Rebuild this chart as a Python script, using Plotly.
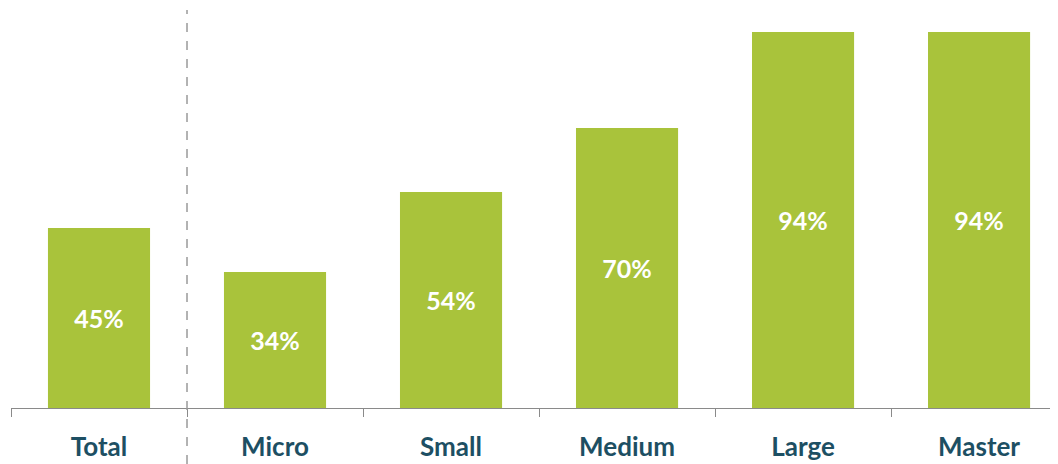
import plotly.graph_objects as go

categories = ["Total", "Micro", "Small", "Medium", "Large", "Master"]
values = [45, 34, 54, 70, 94, 94]
labels = ["45%", "34%", "54%", "70%", "94%", "94%"]

bar_color = "#a9c33b"
text_color = "#1d4f63"

fig = go.Figure(go.Bar(
    x=categories, y=values, text=labels,
    textposition="inside", insidetextanchor="middle",
    textfont=dict(family="Lato", size=25, color="white", weight="bold"),
    marker=dict(color=bar_color, line=dict(width=0)),
    hoverinfo="skip",
))

fig.add_shape(type="line", xref="x", yref="paper",
              x0=0.5, x1=0.5, y0=-0.14, y1=0.995,
              line=dict(color="#9a9a9a", width=1.5, dash="dash"))

fig.update_layout(
    width=1058, height=464,
    margin=dict(l=3, r=0, t=0, b=64),
    paper_bgcolor="white", plot_bgcolor="white",
    bargap=0.42, showlegend=False,
    font=dict(family="Lato"),
    uniformtext=dict(mode="show", minsize=25),
)
fig.update_xaxes(
    type="category", range=[-0.5, 5.494],
    showline=True, linecolor="#8a8a8a", linewidth=1,
    ticks="outside", tickson="boundaries", ticklen=8, tickcolor="#8a8a8a",
    tickfont=dict(family="Lato", size=26, color=text_color, weight="bold"),
    ticklabelstandoff=16, showgrid=False,
)
fig.update_yaxes(range=[0, 100], visible=False, showgrid=False)

fig.write_html("out.html")
